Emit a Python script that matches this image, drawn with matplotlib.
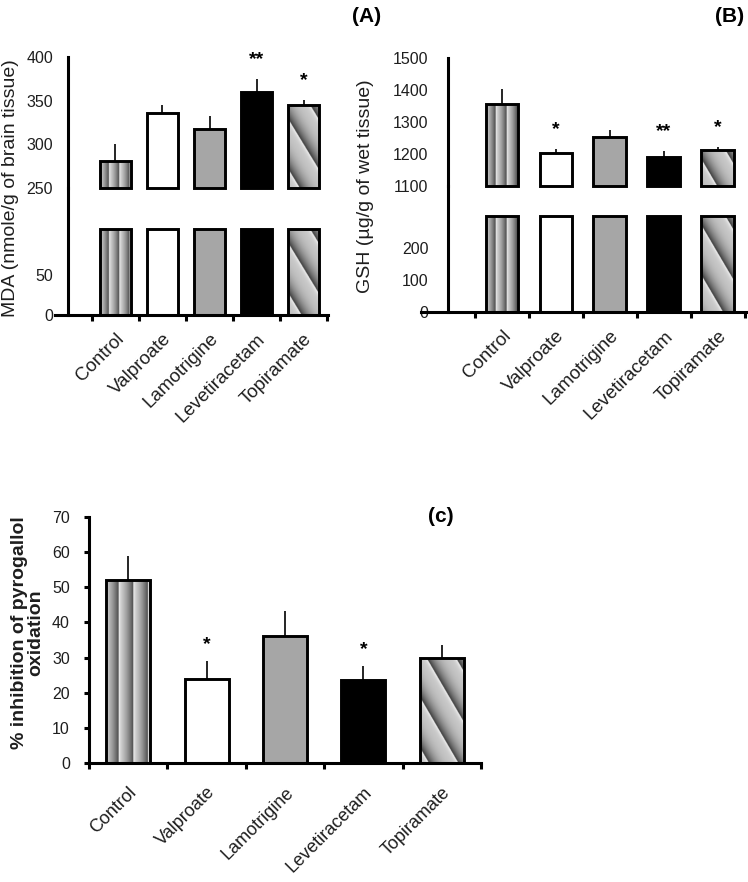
import numpy as np
import matplotlib
matplotlib.use('Agg')
import matplotlib.pyplot as plt

plt.rcParams['font.family'] = ['Liberation Sans', 'DejaVu Sans']

# data
groups = ['Control', 'Valproate', 'Lamotrigine', 'Levetiracetam', 'Topiramate']

mda_mean = [281, 336, 318, 360, 345]
mda_err = [19, 9, 14, 15, 6]
mda_sig = ['', '', '', '**', '*']

gsh_mean = [1355, 1202, 1252, 1190, 1212]
gsh_err = [47, 14, 23, 20, 9]
gsh_sig = ['', '*', '', '**', '*']

sod_mean = [52.1, 23.9, 36.2, 23.7, 30.0]
sod_err = [6.9, 5.1, 7.1, 3.9, 3.5]
sod_sig = ['', '*', '', '*', '']

fills = ['vstripe', 'white', '#a6a6a6', 'black', 'diag']

W, H = 748, 882
fig = plt.figure(figsize=(W / 100, H / 100), dpi=100)
txt = '#1e1e1e'


def add_ax(left, top, right, bottom):
    return fig.add_axes([left / W, 1 - bottom / H, (right - left) / W, (bottom - top) / H])


def texture(ax, kind, x0, y0, w, h, patch):
    # gradient fill clipped to the bar, sized in screen pixels
    (px0, py0), (px1, py1) = ax.transData.transform([(x0, y0), (x0 + w, y0 + h)])
    nx = max(int(round(abs(px1 - px0))) * 3, 2)
    ny = max(int(round(abs(py1 - py0))) * 3, 2)
    col, row = np.meshgrid(np.arange(nx), np.arange(ny))
    if kind == 'vstripe':
        t = (col / nx * 3 + 0.15) % 1
        img = 0.82 - 0.52 * t ** 1.6 + 0.15 * (1 - t) ** 10
    else:
        t = ((row + 1.7 * (nx - 1 - col)) / 150.0 + 0.72) % 1
        img = 0.78 - 0.55 * t ** 3 + 0.2 * (1 - t) ** 14
    im = ax.imshow(img, cmap='gray', vmin=0, vmax=1, extent=(x0, x0 + w, y0, y0 + h),
                   aspect='auto', interpolation='bilinear', zorder=1)
    im.set_clip_path(patch)


def draw_bars(ax, means, bottom, cap, width):
    x = np.arange(len(groups))
    heights = np.minimum(np.array(means, float), cap) - bottom
    bars = ax.bar(x, heights, width, bottom=bottom, edgecolor='black',
                  linewidth=2.1, zorder=2, clip_on=False)
    for b, f in zip(bars, fills):
        if f in ('vstripe', 'diag'):
            b.set_facecolor('none')
            texture(ax, f, b.get_x(), bottom, b.get_width(), b.get_height(), b)
        else:
            b.set_facecolor(f)


def err_and_stars(ax, means, errs, sig, off=14):
    x = np.arange(len(groups))
    m = np.array(means, float)
    e = np.array(errs, float)
    ax.vlines(x, m, m + e, color='black', lw=1.2, zorder=1.5)
    for xi, top, s in zip(x, m + e, sig):
        if s:
            ax.annotate(s, (xi, top), xytext=(0, off), textcoords='offset points',
                        ha='center', va='center', fontsize=14, fontweight='bold')


def broken_panel(left, right, top, mid, bottom, xlim, upper, lower, cap,
                 means, errs, sig, width, ytop, ybot, pad):
    ax_t = add_ax(left, top, right, mid)
    ax_b = add_ax(left, mid, right, bottom)
    for ax, lim in ((ax_t, upper), (ax_b, lower)):
        ax.set_xlim(xlim)
        ax.set_ylim(lim)
        ax.patch.set_alpha(0)
        for s in ('top', 'right'):
            ax.spines[s].set_visible(False)
        ax.spines['left'].set_position(('data', -1.0))
        ax.spines['left'].set_linewidth(2.2)
        ax.tick_params(axis='y', length=0, pad=pad, labelsize=11.5, labelcolor=txt)
    ax_t.spines['bottom'].set_visible(False)
    ax_t.set_xticks([])
    ax_t.set_yticks(ytop)
    ax_b.set_yticks(ybot)
    ax_b.spines['bottom'].set_linewidth(2.2)

    draw_bars(ax_t, means, upper[0], 1e9, width)
    draw_bars(ax_b, means, 0, cap, width)
    err_and_stars(ax_t, means, errs, sig)

    ax_b.set_xticks(np.arange(len(groups)))
    ax_b.set_xticklabels(groups, rotation=45, ha='right', rotation_mode='anchor',
                         fontsize=13.5, color=txt)
    ax_b.set_xticks(np.arange(len(groups) + 1) - 0.5, minor=True)
    ax_b.tick_params(axis='x', which='major', length=0, pad=11)
    ax_b.tick_params(axis='x', which='minor', length=4.5, width=2.2, direction='out')
    return ax_t, ax_b


# (A) MDA
broken_panel(55, 328, 57, 188, 315, (-1.287, 4.521), (250, 400), (0, 158.75), 107.5,
             mda_mean, mda_err, mda_sig, 0.64, [250, 300, 350, 400], [0, 50], 11)
fig.text(11 / W, 1 - 188 / H, 'MDA (nmole/g of brain tissue)', rotation=90,
         ha='center', va='center', fontsize=14, color=txt)
fig.text(367 / W, 1 - 16 / H, '(A)', ha='center', va='center', fontsize=15, fontweight='bold')

# (B) GSH
broken_panel(421, 746, 58, 186, 312, (-1.5, 4.52), (1100, 1500), (0, 393.75), 300,
             gsh_mean, gsh_err, gsh_sig, 0.61, [1100, 1200, 1300, 1400, 1500], [0, 100, 200], 14)
fig.text(366 / W, 1 - 186 / H, 'GSH (\u00b5g/g of wet tissue)', rotation=90,
         ha='center', va='center', fontsize=14, color=txt)
fig.text(730 / W, 1 - 16 / H, '(B)', ha='center', va='center', fontsize=15, fontweight='bold')

# (c) pyrogallol
ax_c = add_ax(89, 517, 481, 763)
ax_c.set_xlim(-0.5, 4.5)
ax_c.set_ylim(0, 70)
for s in ('top', 'right'):
    ax_c.spines[s].set_visible(False)
for s in ('left', 'bottom'):
    ax_c.spines[s].set_linewidth(2.2)
draw_bars(ax_c, sod_mean, 0, 1e9, 0.56)
err_and_stars(ax_c, sod_mean, sod_err, sod_sig, off=12)
ax_c.set_yticks(np.arange(0, 71, 10))
ax_c.tick_params(axis='y', length=3.8, width=2.2, pad=10, labelsize=11.5, labelcolor=txt)
ax_c.set_xticks(np.arange(len(groups)))
ax_c.set_xticklabels(groups, rotation=45, ha='right', rotation_mode='anchor',
                     fontsize=13, color=txt)
ax_c.set_xticks(np.arange(len(groups) + 1) - 0.5, minor=True)
ax_c.tick_params(axis='x', which='major', length=0, pad=15)
ax_c.tick_params(axis='x', which='minor', length=4.5, width=2.2, direction='out')
fig.text(28 / W, 1 - 633 / H, '% inhibition of pyrogallol\noxidation', rotation=90,
         ha='center', va='center', fontsize=14, fontweight='bold', linespacing=0.95,
         multialignment='center', color=txt)
fig.text(441 / W, 1 - 516 / H, '(c)', ha='center', va='center', fontsize=15, fontweight='bold')

fig.savefig('out.png', dpi=100)
